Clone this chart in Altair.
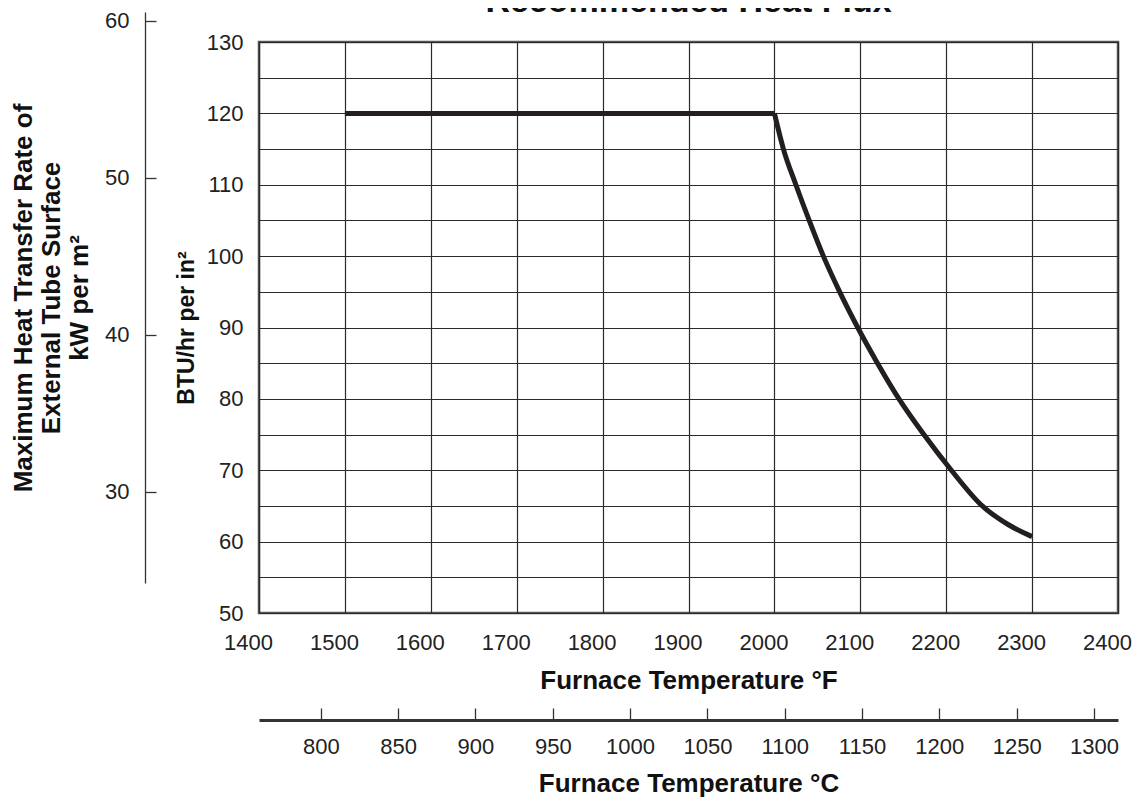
import altair as alt
import pandas as pd

# ---------------- data ----------------
chart_title = "Recommended Heat Flux"

temp_f = [1500, 2000, 2000, 2010.5, 2025, 2040.5, 2057, 2076, 2097, 2120, 2145, 2174, 2206, 2242, 2272, 2300]
flux_btu = [120, 120, 120, 115, 110, 105, 100, 95, 90, 85, 80, 75, 70, 65, 62.4, 60.7]
segment = ["flat", "flat"] + ["curve"] * 14

f_ticks = [1400, 1500, 1600, 1700, 1800, 1900, 2000, 2100, 2200, 2300, 2400]
btu_ticks = [50, 55, 60, 65, 70, 75, 80, 85, 90, 95, 100, 105, 110, 115, 120, 125, 130]
kw_ticks = [30, 40, 50, 60]
c_ticks = [800, 850, 900, 950, 1000, 1050, 1100, 1150, 1200, 1250, 1300]

f_domain = [1400, 2400]
btu_domain = [50, 130]
c_domain = [(1400 - 32) / 1.8, (2400 - 32) / 1.8]
kw_domain = [24.2, 60.57]

title_f = "Furnace Temperature °F"
title_c = "Furnace Temperature °C"
title_btu = "BTU/hr per in²"
title_kw = ["Maximum Heat Transfer Rate of", "External Tube Surface", "kW per m²"]

W, H = 859, 571
FONT = "Liberation Sans"

line_df = pd.DataFrame({"F": temp_f, "BTU": flux_btu, "seg": segment})
kw_df = pd.DataFrame({"kW": kw_ticks})
c_df = pd.DataFrame({"C": c_ticks})

main = alt.Chart(line_df).mark_line(
    color="#231f20", strokeWidth=5, interpolate="monotone", strokeCap="butt"
).encode(
    x=alt.X("F:Q",
            scale=alt.Scale(domain=f_domain, nice=False, zero=False),
            axis=alt.Axis(values=f_ticks, grid=True, ticks=False, domain=False,
                          labelFlush=False, labelOffset=-11, labelPadding=36,
                          labelBaseline="alphabetic", format="d",
                          labelFontSize=22, title=title_f, titleFontSize=26,
                          titleY=75, titleBaseline="alphabetic")),
    y=alt.Y("BTU:Q",
            scale=alt.Scale(domain=btu_domain, nice=False, zero=False),
            axis=alt.Axis(values=btu_ticks, grid=True, ticks=False, domain=False,
                          labelExpr="datum.value % 10 == 0 ? datum.label : ''",
                          labelPadding=16, labelFontSize=22,
                          title=title_btu, titleFontSize=23, titleAngle=270,
                          titleX=-73, titleBaseline="middle", titleAlign="center")),
    detail="seg:N",
)

kw_layer = alt.Chart(kw_df).mark_point(opacity=0).encode(
    y=alt.Y("kW:Q",
            scale=alt.Scale(domain=kw_domain, nice=False, zero=False),
            axis=alt.Axis(orient="right", offset=-(W + 114), position=-30,
                          values=kw_ticks, grid=False, tickSize=11,
                          tickColor="#333", tickWidth=1.3,
                          domainColor="#333", domainWidth=1.3,
                          labelAlign="right", labelPadding=-27, labelFontSize=22,
                          title=title_kw, titleFontSize=26, titleAngle=270,
                          titleX=-122, titleBaseline="middle", titleAlign="center",
                          titleLineHeight=28)),
)

c_layer = alt.Chart(c_df).mark_point(opacity=0).encode(
    x=alt.X("C:Q",
            scale=alt.Scale(domain=c_domain, nice=False, zero=False),
            axis=alt.Axis(orient="top", offset=-678, values=c_ticks, grid=False,
                          tickSize=12, tickColor="#333", tickWidth=1.3,
                          domainColor="#333", domainWidth=3,
                          labelPadding=-45, labelBaseline="alphabetic",
                          labelFlush=False, format="d", labelFontSize=22,
                          title=title_c, titleFontSize=26, titleY=71,
                          titleBaseline="alphabetic")),
)

chart = alt.layer(main, kw_layer, c_layer).resolve_scale(
    x="independent", y="independent"
).properties(
    width=W, height=H,
    title=alt.TitleParams(chart_title, fontSize=34, fontWeight="bold", font=FONT,
                          offset=-36, anchor="middle", frame="group",
                          baseline="alphabetic", color="#111"),
    padding={"top": -24, "left": 2, "right": 0, "bottom": 2},
).configure_view(
    stroke="#555", strokeWidth=2.5
).configure_axis(
    labelFont=FONT, titleFont=FONT, labelColor="#222", titleColor="#111",
    titleFontWeight="bold", gridColor="#2a2a2a", gridWidth=1.2, gridOpacity=1,
)

chart.save("out.html", embed_options={"renderer": "svg", "actions": False})
